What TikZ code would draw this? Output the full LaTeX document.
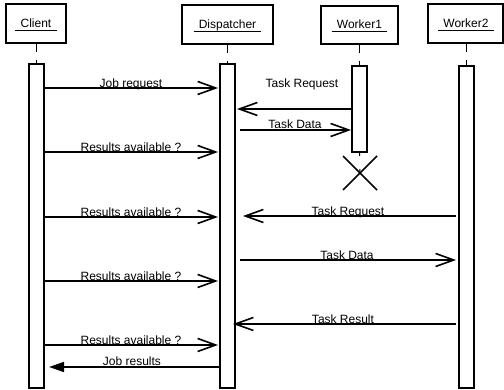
\documentclass[tikz,border=0pt]{standalone}
\usepackage{fontspec}
\setmainfont{Liberation Sans}
\usetikzlibrary{arrows.meta,calc}
\begin{document}
\begin{tikzpicture}[x=1pt,y=-1pt,
  lbl/.style={font=\fontsize{12}{14}\selectfont, inner sep=0pt, anchor=base},
  head/.style={draw, line width=2pt, inner sep=0pt, outer sep=0pt},
  actbar/.style={draw, line width=2pt, fill=white, inner sep=0pt, outer sep=0pt, minimum width=15pt},
  life/.style={line width=1pt, dash pattern=on 9pt off 8pt},
  msg/.style={line width=1.6pt, -{Straight Barb[length=18pt,width=13pt,line width=1.6pt]}},
  reply/.style={line width=1.6pt, -{Triangle[length=15pt,width=10pt]}},
  uline/.style={line width=0.8pt},
  cross/.style={line width=1.5pt}]
\useasboundingbox (0,0) rectangle (504,390);
% heads
\node[head, minimum width=60pt, minimum height=39pt] (hc) at (36,23.5) {};
\node[head, minimum width=91pt, minimum height=39pt] (hd) at (227.5,24.5) {};
\node[head, minimum width=77pt, minimum height=38pt] (hw1) at (359.5,25) {};
\node[head, minimum width=75pt, minimum height=39pt] (hw2) at (465.5,23.5) {};
\node[lbl] (tc) at (36,27.5) {Client};
\node[lbl] (td) at (227.5,28.3) {Dispatcher};
\node[lbl] (tw1) at (359.5,29) {Worker1};
\node[lbl] (tw2) at (466,27.7) {Worker2};
\foreach \t in {tc,td,tw1,tw2}
  \draw[uline] ($(\t.base west)+(-5,2.7)$) -- ($(\t.base east)+(5,2.7)$);
% bars
\node[actbar, minimum height=324pt, draw=none, fill=none] (bc) at (36.5,226) {};
\node[actbar, minimum height=324pt, draw=none, fill=none] (bd) at (227.5,226) {};
\node[actbar, minimum height=86pt, draw=none, fill=none] (bw1) at (359.5,109) {};
\node[actbar, minimum height=322pt, draw=none, fill=none] (bw2) at (466.5,227) {};
\coordinate (w1end) at (360,173);
% lifelines
\draw[life] (bc.north |- hc.south) -- (bc.north);
\draw[life] (bd.north |- hd.south) -- (bd.north);
\draw[life] (bw1.north |- hw1.south) -- (bw1.north);
\draw[life] (bw2.north |- hw2.south) -- (bw2.north);
\draw[line width=1pt, dash pattern=on 4pt off 13pt] (bw1.south) -- (w1end);
\foreach \b in {bc,bd,bw1,bw2}
  \draw[line width=2pt, fill=white] (\b.south west) rectangle (\b.north east);
% destruction
\draw[cross] ($(w1end)+(-17,-17)$) -- ($(w1end)+(17,17)$);
\draw[cross] ($(w1end)+(-17,17)$) -- ($(w1end)+(17,-17)$);
% messages
\draw[msg, shorten >=2pt] (bc.east |- 0,88) -- (bd.west |- 0,88);
\draw[msg, shorten >=2pt] (bw1.west |- 0,109) -- (bd.east |- 0,109);
\draw[msg, shorten <=5pt, shorten >=1pt] (bd.east |- 0,130) -- (bw1.west |- 0,130);
\draw[msg, shorten >=2pt] (bc.east |- 0,152) -- (bd.west |- 0,152);
\draw[msg, shorten >=2pt] (bc.east |- 0,217) -- (bd.west |- 0,217);
\draw[msg, shorten <=3pt, shorten >=8pt] (bw2.west |- 0,216) -- (bd.east |- 0,216);
\draw[msg, shorten <=5pt, shorten >=3pt] (bd.east |- 0,260) -- (bw2.west |- 0,260);
\draw[msg, shorten >=2pt] (bc.east |- 0,281) -- (bd.west |- 0,281);
\draw[msg, shorten <=3pt, shorten >=-2pt] (bw2.west |- 0,324) -- (bd.east |- 0,324);
\draw[msg, shorten >=2pt] (bc.east |- 0,345) -- (bd.west |- 0,345);
\draw[reply, shorten <=1pt, shorten >=5pt] (bd.west |- 0,367) -- (bc.east |- 0,367);
% labels
\node[lbl] (l1) at (131,87.5) {Job request};
\node[lbl] (l2) at (302,88) {Task Request};
\node[lbl] (l3) at (295,129) {Task Data};
\node[lbl] (l4) at (131,152) {Results available ?};
\node[lbl] (l5) at (131,217) {Results available ?};
\node[lbl] (l6) at (348,216) {Task Request};
\node[lbl] (l7) at (347,260) {Task Data};
\node[lbl] (l8) at (131,281) {Results available ?};
\node[lbl] (l9) at (343,324) {Task Result};
\node[lbl] (l10) at (131,345) {Results available ?};
\node[lbl] (l11) at (132,366) {Job results};
\end{tikzpicture}
\end{document}
